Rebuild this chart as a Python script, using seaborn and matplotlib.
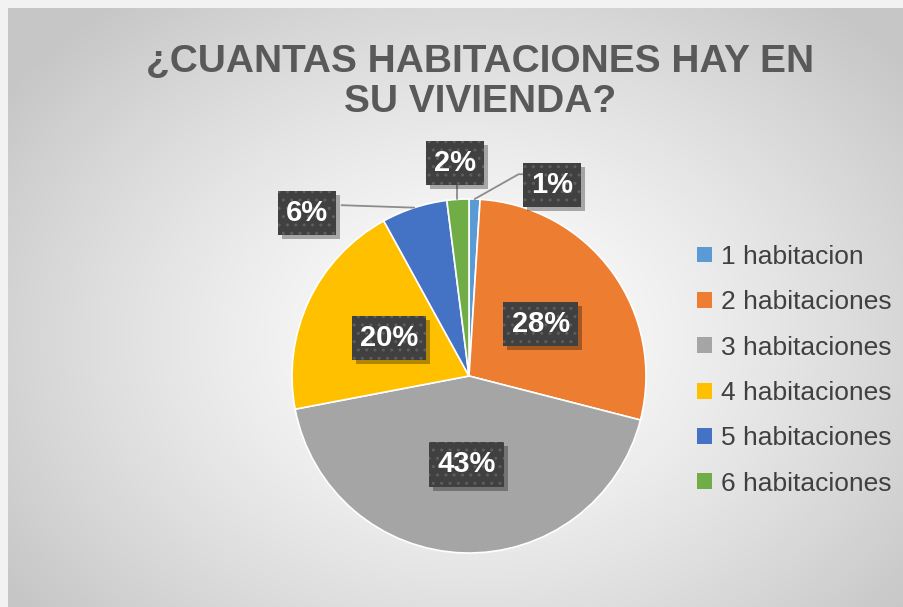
import numpy as np
import matplotlib
matplotlib.use("Agg")
import matplotlib.pyplot as plt
from matplotlib.patches import Patch, Rectangle
from matplotlib.transforms import IdentityTransform
import seaborn as sns

sns.set_theme(style="white")
plt.rcParams['font.family'] = ['Liberation Sans', 'DejaVu Sans']

# data
categorias = ["1 habitacion", "2 habitaciones", "3 habitaciones",
              "4 habitaciones", "5 habitaciones", "6 habitaciones"]
porcentajes = [1, 28, 43, 20, 6, 2]
colores = ["#5B9BD5", "#ED7D31", "#A5A5A5", "#FFC000", "#4472C4", "#70AD47"]
titulo = "¿CUANTAS HABITACIONES HAY EN\nSU VIVIENDA?"

pal = sns.color_palette(colores)

fig = plt.figure(figsize=(9.04, 6.07), dpi=100)
fig.patch.set_facecolor("#f2f2f2")

# radial gradient background
bg = fig.add_axes([8 / 904, 0, 1 - 8 / 904, 1 - 8 / 607])
yy, xx = np.mgrid[0:600, 0:896]
d = np.sqrt(((xx - 462) / 560.0) ** 2 + ((yy - 330) / 430.0) ** 2)
g = 1.0 - 0.22 * np.clip(d, 0, 1) ** 1.3
bg.imshow(np.dstack([g, g, g]), aspect="auto", extent=[0, 1, 0, 1])
bg.axis("off")

ax = fig.add_axes([(469 - 177) / 904, (607 - 553) / 607, 354 / 904, 354 / 607])
wedges, _ = ax.pie(porcentajes, colors=pal, startangle=90, counterclock=False,
                   radius=1, wedgeprops=dict(edgecolor="white", linewidth=1.2))
ax.set_xlim(-1, 1)
ax.set_ylim(-1, 1)
ax.set_aspect("equal")
ax.axis("off")

box = dict(boxstyle="square,pad=0.28", fc="#404040", ec="#5e5e5e", hatch="..", lw=0)
etiquetas = []

def etiqueta(x, y, txt):
    t = ax.text(x, y, txt, ha="center", va="center", color="white",
                fontsize=21, fontweight="bold", bbox=box, zorder=6)
    etiquetas.append(t)

def mid_point(w, r=1.0):
    a = np.deg2rad((w.theta1 + w.theta2) / 2)
    return r * np.cos(a), r * np.sin(a)

# inside labels
for i in [1, 2, 3]:
    x, y = mid_point(wedges[i], 0.5)
    etiqueta(x, y, f"{porcentajes[i]}%")

# outside labels with leader lines
line = dict(color="#8c8c8c", lw=1.3)
# 1%
x0, y0 = mid_point(wedges[0])
ax.plot([x0, 0.28, 0.33], [y0, 1.14, 1.14], **line, zorder=4, clip_on=False)
etiqueta(0.47, 1.08, f"{porcentajes[0]}%")
# 2%
x0, y0 = mid_point(wedges[5])
ax.plot([-0.07, -0.07], [y0, 1.12], **line, zorder=4, clip_on=False)
etiqueta(-0.08, 1.205, f"{porcentajes[5]}%")
# 6%
x0, y0 = mid_point(wedges[4])
ax.plot([-0.72, x0], [0.965, y0], **line, zorder=4, clip_on=False)
etiqueta(-0.915, 0.92, f"{porcentajes[4]}%")

fig.text(0.531, 0.865, titulo, ha="center", va="center", fontsize=28,
         fontweight="bold", color="#595959", linespacing=1.16)

handles = [Patch(facecolor=c, edgecolor="none") for c in pal]
leg = fig.legend(handles, categorias, loc="center left", bbox_to_anchor=(0.745, 0.39),
                 frameon=False, fontsize=19, handlelength=0.55, handleheight=0.55,
                 handletextpad=0.35, labelspacing=0.81, labelcolor="#404040")

# drop shadows behind the label boxes
fig.canvas.draw()
r = fig.canvas.get_renderer()
for t in etiquetas:
    bb = t.get_bbox_patch().get_window_extent(r)
    sh = Rectangle((bb.x0 + 4, bb.y0 - 4), bb.width, bb.height,
                   transform=IdentityTransform(), fc="black", alpha=0.3, lw=0,
                   zorder=5.5, clip_on=False)
    ax.add_artist(sh)

fig.savefig("out.png", dpi=100, facecolor=fig.get_facecolor())
